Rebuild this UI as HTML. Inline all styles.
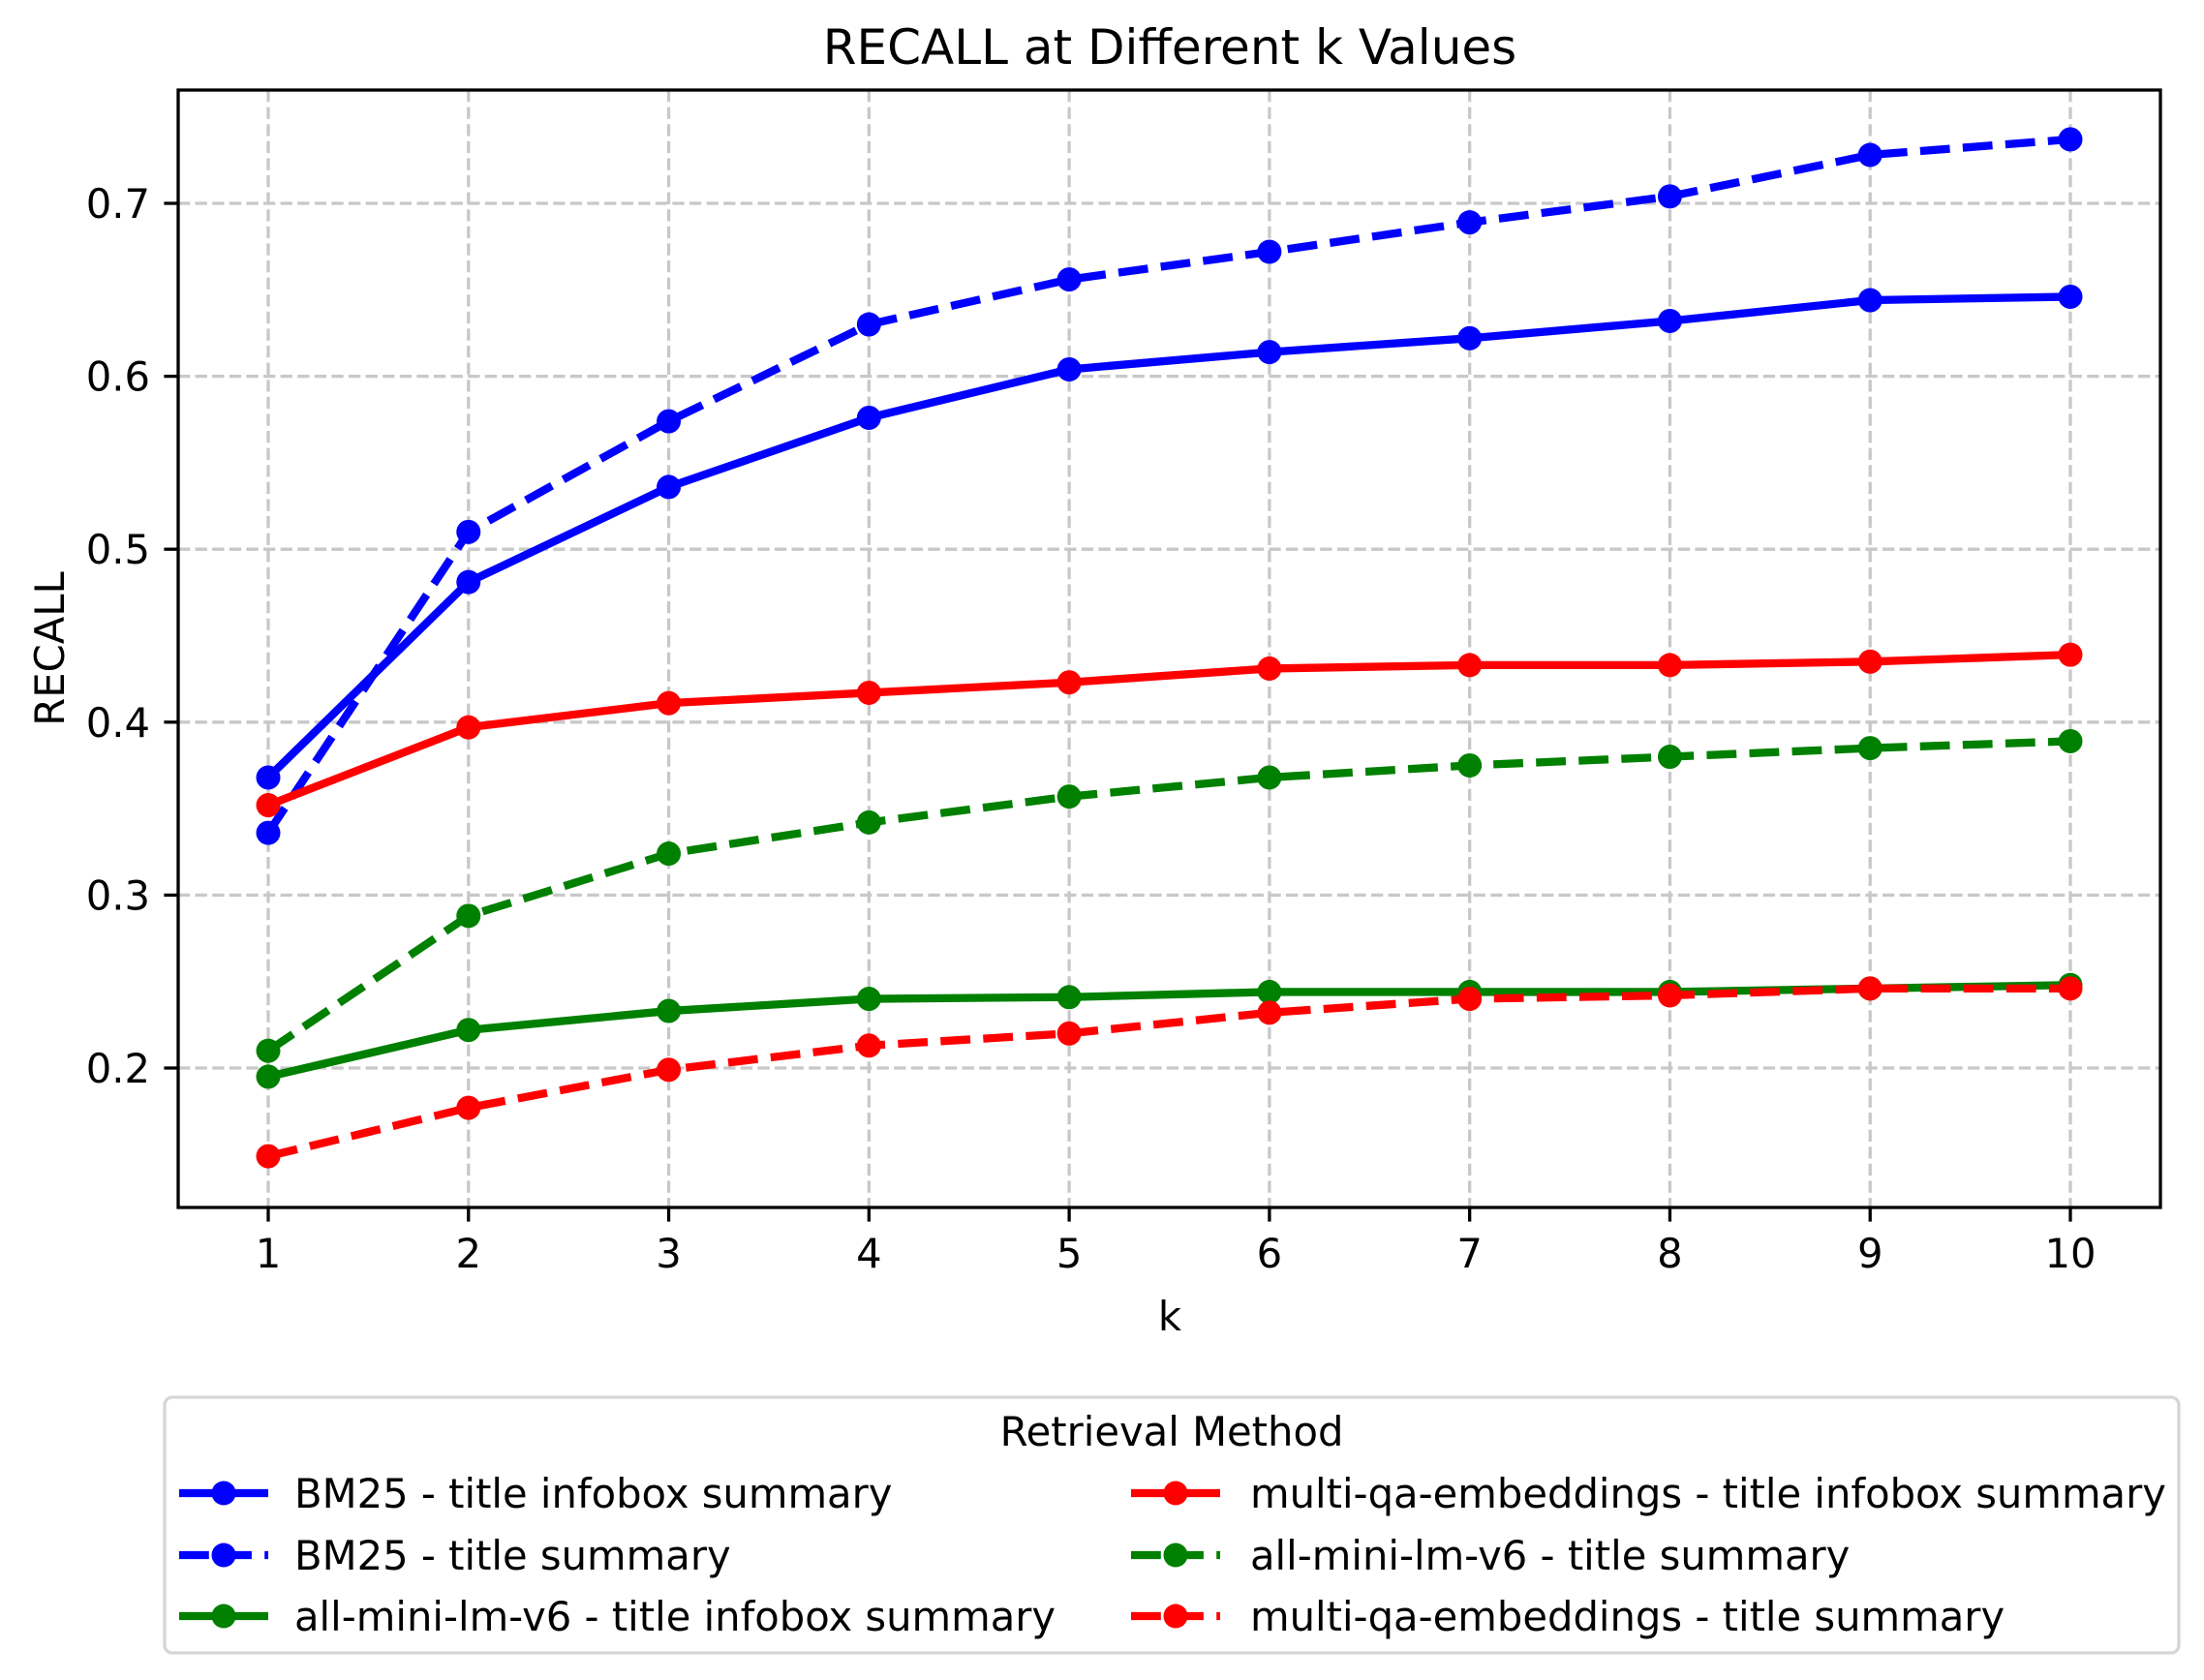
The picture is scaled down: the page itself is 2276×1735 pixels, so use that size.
<!DOCTYPE html>
<html><head><meta charset="utf-8"><style>
html,body{margin:0;padding:0;background:#fff}
svg{display:block;font-family:"DejaVu Sans","Liberation Sans",sans-serif}
</style></head><body>
<svg id="chart" width="2276" height="1735" viewBox="0 0 2276 1735" xmlns="http://www.w3.org/2000/svg">
<rect width="2276" height="1735" fill="#fff"/>
<g id="grid"></g>
<g id="series"></g>
<rect x="184" y="93" width="2047" height="1154" fill="none" stroke="#000" stroke-width="3.3"/>
<g id="ticks"></g>
<text x="1208" y="66" font-size="50" text-anchor="middle">RECALL at Different k Values</text>
<text x="1208" y="1374" font-size="41.7" text-anchor="middle">k</text>
<text x="0" y="0" font-size="41.7" text-anchor="middle" transform="translate(66,670) rotate(-90)">RECALL</text>
<g id="legend">
<rect x="170" y="1443" width="2080" height="264" rx="8" fill="#fff" stroke="#d6d6d6" stroke-width="3.3"/>
<text x="1210" y="1493" font-size="41.7" text-anchor="middle">Retrieval Method</text>
</g>
</svg>
<script>
const categories = [1,2,3,4,5,6,7,8,9,10];
const yTicks = [0.2,0.3,0.4,0.5,0.6,0.7];
const seriesNames = ["BM25 - title infobox summary","BM25 - title summary","all-mini-lm-v6 - title infobox summary","multi-qa-embeddings - title infobox summary","all-mini-lm-v6 - title summary","multi-qa-embeddings - title summary"];
const seriesColors = ["#0000ff","#0000ff","#008000","#ff0000","#008000","#ff0000"];
const seriesDashed = [false,true,false,false,true,true];
const bm25Infobox = [0.368,0.481,0.536,0.576,0.604,0.614,0.622,0.632,0.644,0.646];
const bm25Summary = [0.336,0.510,0.574,0.630,0.656,0.672,0.689,0.704,0.728,0.737];
const miniInfobox = [0.195,0.222,0.233,0.240,0.241,0.244,0.244,0.244,0.246,0.248];
const multiInfobox = [0.352,0.397,0.411,0.417,0.423,0.431,0.433,0.433,0.435,0.439];
const miniSummary = [0.210,0.288,0.324,0.342,0.357,0.368,0.375,0.380,0.385,0.389];
const multiSummary = [0.149,0.177,0.199,0.213,0.220,0.232,0.240,0.242,0.246,0.246];
const allSeries = [bm25Infobox,bm25Summary,miniInfobox,multiInfobox,miniSummary,multiSummary];

const NS="http://www.w3.org/2000/svg";
const L=184,R=2231,T=93,B=1247;
function xs(k){return 277+(k-1)*(2138-277)/9;}
function ys(v){return 210+(0.7-v)*1786;}
function mk(tag,attrs,parent){const e=document.createElementNS(NS,tag);for(const a in attrs)e.setAttribute(a,attrs[a]);parent.appendChild(e);return e;}
const grid=document.getElementById('grid'),ticks=document.getElementById('ticks'),ser=document.getElementById('series'),leg=document.getElementById('legend');
categories.forEach(k=>{
  const x=xs(k);
  const g=mk('line',{x1:x,x2:x,y1:T,y2:B,stroke:'#c8c8c8','stroke-width':3.3,'stroke-dasharray':'12.3 5.3'},grid);
  
  
  const t=mk('line',{x1:x,x2:x,y1:B,y2:B+14.6,stroke:'#000','stroke-width':3.3},ticks);
  
  
  const lb=mk('text',{x:x,y:1309,'font-size':41.7,'text-anchor':'middle'},ticks);
  lb.textContent=k;
  
  
});
yTicks.forEach(v=>{
  const y=ys(v);
  const g=mk('line',{x1:L,x2:R,y1:y,y2:y,stroke:'#c8c8c8','stroke-width':3.3,'stroke-dasharray':'12.3 5.3'},grid);
  
  
  const t=mk('line',{x1:L-14.6,x2:L,y1:y,y2:y,stroke:'#000','stroke-width':3.3},ticks);
  
  
  const lb=mk('text',{x:L-29,y:y+15,'font-size':41.7,'text-anchor':'end'},ticks);
  lb.textContent=v.toFixed(1);
  
  
});
allSeries.forEach((vals,i)=>{
  const g=mk('g',{},ser);
  
  
  const pts=vals.map((v,j)=>xs(categories[j])+','+ys(v)).join(' ');
  const pl=mk('polyline',{points:pts,fill:'none',stroke:seriesColors[i],'stroke-width':8.3,'stroke-linejoin':'round','stroke-linecap':seriesDashed[i]?'butt':'round'},g);
  if(seriesDashed[i])pl.setAttribute('stroke-dasharray','30.8 13.3');
  
  
  vals.forEach((v,j)=>{
    const c=mk('circle',{cx:xs(categories[j]),cy:ys(v),r:12.5,fill:seriesColors[i]},g);
    
    
  });
  const col=Math.floor(i/3),row=i%3;
  const hx=col?1168:185,tx=col?1291:304,ly=[1542,1606,1669][row];
  const e=mk('g',{},leg);
  
  
  const hl=mk('line',{x1:hx,x2:hx+92,y1:ly,y2:ly,stroke:seriesColors[i],'stroke-width':8.3},e);
  if(seriesDashed[i])hl.setAttribute('stroke-dasharray','30.8 13.3');
  
  
  const hc=mk('circle',{cx:hx+46,cy:ly,r:12.5,fill:seriesColors[i]},e);
  
  
  const lt=mk('text',{x:tx,y:ly+15,'font-size':41.7},e);
  lt.textContent=seriesNames[i];
  
  
});
</script>
</body></html>
